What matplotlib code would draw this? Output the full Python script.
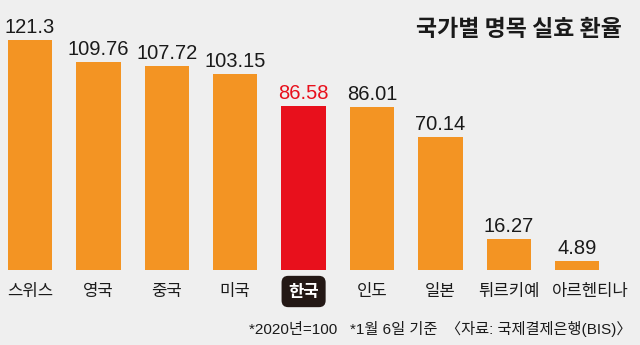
import matplotlib
matplotlib.use("Agg")
import matplotlib.pyplot as plt

# Nominal effective exchange rate by country (2020 = 100)
countries = ["스위스", "영국", "중국", "미국", "한국", "인도", "일본", "튀르키예", "아르헨티나"]
values = [121.3, 109.76, 107.72, 103.15, 86.58, 86.01, 70.14, 16.27, 4.89]
value_labels = ["121.3", "109.76", "107.72", "103.15", "86.58", "86.01", "70.14", "16.27", "4.89"]
highlight = "한국"

title = "국가별 명목 실효 환율"
footnote = "*2020년=100   *1월 6일 기준  〈자료: 국제결제은행(BIS)〉"

BG = "#efefef"
ORANGE = "#f39423"
RED = "#e8101c"
DARK = "#231815"
INK = "#1a1a1a"

num_font = ["Liberation Sans", "DejaVu Sans"]
kr_font = ["Noto Sans CJK KR", "DejaVu Sans"]
mixed_font = ["Liberation Sans", "Noto Sans CJK KR", "DejaVu Sans"]

W, H = 640, 345
fig = plt.figure(figsize=(W / 100, H / 100), dpi=100, facecolor=BG)

# axes spans the full width; bars sit on a baseline 75 px above the bottom edge
ax = fig.add_axes([0, 75 / H, 1, 270 / H])
ax.patch.set_alpha(0)

pitch = 68.4  # px between bar centres
first_c = 30.0
x = list(range(len(countries)))
ax.set_xlim(-first_c / pitch, (W - first_c) / pitch)
ax.set_ylim(0, 270 / 1.896)

colors = [RED if c == highlight else ORANGE for c in countries]
ax.bar(x, values, width=0.65, color=colors, edgecolor="none")

for xi, v, lab, c in zip(x, values, value_labels, countries):
    ax.annotate(lab, xy=(xi, v), xytext=(0, 7), textcoords="offset pixels",
                ha="center", va="baseline", fontsize=14.5,
                family=num_font, color=RED if c == highlight else INK)

# the long last name is nudged right so it clears its neighbour
label_shift = [0, 0, 0, 0, 0, 0, 0, 0, 13]

for xi, c, dx in zip(x, countries, label_shift):
    if c == highlight:
        ax.annotate(c, xy=(xi, 0), xytext=(dx, -21.5), textcoords="offset pixels",
                    ha="center", va="center", fontsize=12, family=kr_font,
                    color="white", fontweight="bold",
                    bbox=dict(boxstyle="round,pad=0.4,rounding_size=0.4",
                              fc=DARK, ec="none"))
    else:
        ax.annotate(c, xy=(xi, 0), xytext=(dx, -21.5), textcoords="offset pixels",
                    ha="center", va="center", fontsize=12, family=kr_font,
                    color=INK)

for s in ax.spines.values():
    s.set_visible(False)
ax.set_xticks([])
ax.set_yticks([])

fig.text(622 / W, 1 - 30 / H, title, ha="right", va="center",
         fontsize=16.5, fontweight="bold", family=kr_font, color=INK)
fig.text(632 / W, 1 - 329 / H, footnote, ha="right", va="center",
         fontsize=11, family=mixed_font, color=INK)

fig.savefig("out.png", dpi=100, facecolor=BG)
